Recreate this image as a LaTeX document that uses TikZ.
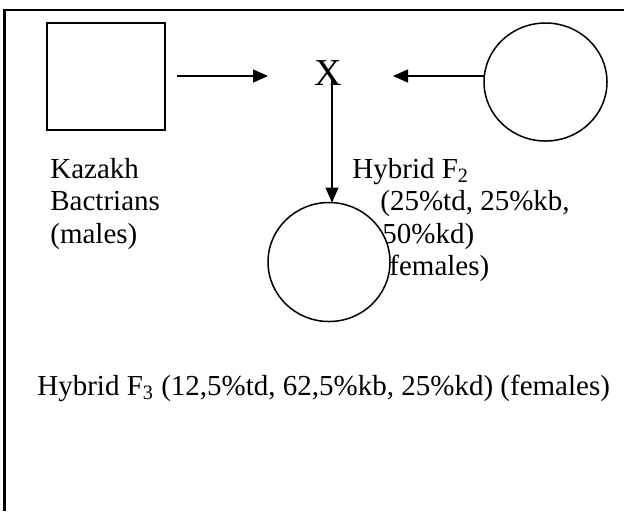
\documentclass[tikz,border=0pt]{standalone}
\usepackage{fontspec}
\setmainfont{Liberation Serif}
\usetikzlibrary{arrows.meta,shapes.geometric}
\begin{document}
\begin{tikzpicture}[x=0.5pt,y=-0.5pt,
  shp/.style={draw,line width=0.75pt,inner sep=0pt,outer sep=0pt},
  lbl/.style={anchor=base west,inner sep=0pt,font=\fontsize{14.5}{16.5}\selectfont},
  arr/.style={line width=0.75pt,-{Triangle[length=7.5pt,width=6.5pt]}},
  frm/.style={line width=1.25pt}]
\useasboundingbox (0,0) rectangle (624,511);
\draw[frm] (4.5,511) -- (4.5,10) -- (624,10);
% shapes
\node[shp,minimum width=59pt,minimum height=53.5pt] (sq) at (106,76.5) {};
\node[shp,ellipse,minimum width=61.5pt,minimum height=59pt] (rc) at (545.5,82) {};
\node[inner sep=0pt,anchor=base,font=\fontsize{19}{19}\selectfont] (x) at (328.5,85) {X};
% labels
\node[lbl] (k1) at (50,178) {Kazakh};
\node[lbl] (k2) at (50,210) {Bactrians};
\node[lbl] (k3) at (50,243) {(males)};
\node[lbl] (h1) at (352,178) {Hybrid F\textsubscript{2}};
\node[lbl] (h2) at (380,210) {(25\%td, 25\%kb,};
\node[lbl] (h3) at (382,243) {50\%kd)};
\node[lbl] (h4) at (389,275) {females)};
\node[lbl] (f3) at (37,395) {Hybrid F\textsubscript{3} (12,5\%td, 62,5\%kb, 25\%kd) (females)};
% lower circle (white fill over the text)
\node[shp,ellipse,fill=white,minimum width=61pt,minimum height=59.5pt] (lc) at (329,262) {};
% connectors
\coordinate (a1s) at (177,76);
\coordinate (a1e) at (268,76);
\coordinate (a2e) at (393,76);
\coordinate (vs) at (332,80);
\draw[arr] (a1s) -- (a1e);
\draw[arr] (a2e -| rc.west) -- (a2e);
\draw[arr] (vs) -- (vs |- lc.north);
\end{tikzpicture}
\end{document}
